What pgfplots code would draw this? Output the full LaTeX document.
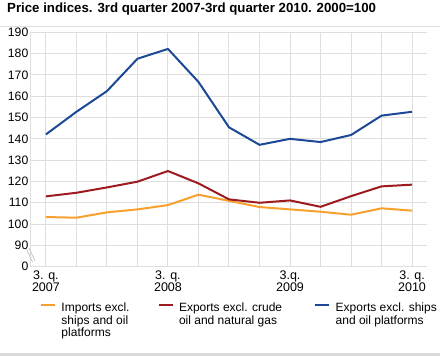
\documentclass[border=0pt]{standalone}
\usepackage{fontspec}
\setmainfont{Liberation Sans}
\usepackage{pgfplots}
\pgfplotsset{compat=1.18}
\definecolor{cblue}{HTML}{1C4896}
\definecolor{cred}{HTML}{9C1A20}
\definecolor{corange}{HTML}{F7A02E}
\definecolor{cgrid}{HTML}{DEDEDE}
\newcommand{\lt}[1]{\begin{tabular}[t]{@{}l@{}}#1\end{tabular}}
\begin{document}
\begin{tikzpicture}
\useasboundingbox (0pt,0pt) rectangle (440pt,-356pt);
\node[anchor=base west, font=\fontsize{13.25}{16}\selectfont\bfseries, inner sep=0pt] at (7pt,-12.5pt) {Price indices. 3rd quarter 2007-3rd quarter 2010. 2000=100};
\draw[cgrid, line width=1pt] (0pt,-26.7pt) -- (440pt,-26.7pt);
\fill[gray!30] (0pt,-353pt) rectangle (440pt,-356pt);
\begin{axis}[
  at={(31pt,-266.7pt)}, anchor=south west, scale only axis,
  width=396pt, height=234.4pt,
  xmin=-0.49, xmax=12.49, ymin=80, ymax=190,
  xtick={0,...,12},
  xticklabels={{3. q.\\2007},,,,{3. q.\\2008},,,,{3.q.\\2009},,,,{3. q.\\2010}},
  xticklabel style={align=center, font=\fontsize{12.5}{11.8}\selectfont, inner sep=0pt, yshift=-4pt},
  ytick={80,90,...,190},
  yticklabels={0,90,100,110,120,130,140,150,160,170,180,190},
  yticklabel style={font=\fontsize{12.2}{13}\selectfont, inner sep=0pt, xshift=-2.5pt},
  /pgf/number format/assume math mode=true,
  grid=major, major grid style={cgrid, line width=1pt},
  axis x line*=bottom, axis y line*=left,
  axis line style={cgrid, line width=1pt, -},
  major tick length=0pt,
  legend columns=3,
  legend cell align=left,
  legend image code/.code={\draw[#1, line width=2pt] (0pt,3.6pt) -- (14pt,3.6pt);},
  legend style={draw=none, fill=none, font=\fontsize{12}{11.7}\selectfont,
    inner sep=0pt, outer sep=0pt, nodes={inner sep=1pt},
    at={([xshift=9pt,yshift=-35.6pt]rel axis cs:0,0)}, anchor=north west,
    /tikz/every odd column/.append style={column sep=4.5pt},
    /tikz/column 2/.append style={column sep=27pt},
    /tikz/column 4/.append style={column sep=31pt}},
]
\addplot[corange, line width=2pt] coordinates {
(0,103.3) (1,103.0) (2,105.5) (3,106.9) (4,108.9) (5,113.8) (6,110.9)
(7,108.0) (8,106.9) (9,105.8) (10,104.4) (11,107.4) (12,106.3)};
\addlegendentry{\lt{Imports excl.\\ships and oil\\platforms}}
\addplot[cred, line width=2pt] coordinates {
(0,113.0) (1,114.7) (2,117.2) (3,119.9) (4,124.9) (5,119.1) (6,111.6)
(7,110.0) (8,111.1) (9,108.1) (10,113.1) (11,117.7) (12,118.5)};
\addlegendentry{\lt{Exports excl. crude\\oil and natural gas}}
\addplot[cblue, line width=2pt] coordinates {
(0,142.1) (1,152.7) (2,162.4) (3,177.6) (4,182.2) (5,166.7) (6,145.4)
(7,137.2) (8,140.0) (9,138.5) (10,141.8) (11,150.9) (12,152.7)};
\addlegendentry{\lt{Exports excl. ships\\and oil platforms}}
\end{axis}
\draw[gray!50, line width=0.7pt] (26.5pt,-249pt) -- (32.5pt,-262pt);
\draw[gray!50, line width=0.7pt] (29pt,-248pt) -- (35pt,-261pt);
\end{tikzpicture}
\end{document}
